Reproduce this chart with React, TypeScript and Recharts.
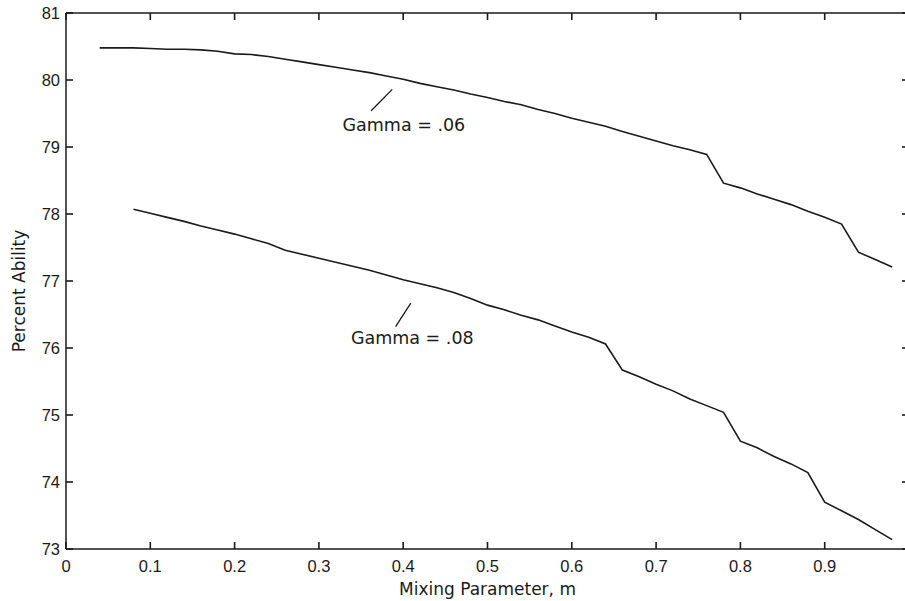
import { LineChart, Line, XAxis, YAxis, ReferenceLine, ReferenceDot } from 'recharts';

// mixing parameter m and percent ability
const mGamma06 = [0.04, 0.06, 0.08, 0.1, 0.12, 0.14, 0.16, 0.18, 0.2, 0.22, 0.24, 0.26, 0.28, 0.3, 0.32, 0.34, 0.36, 0.38, 0.4, 0.42, 0.44, 0.46, 0.48, 0.5, 0.52, 0.54, 0.56, 0.58, 0.6, 0.62, 0.64, 0.66, 0.68, 0.7, 0.72, 0.74, 0.76, 0.78, 0.8, 0.82, 0.84, 0.86, 0.88, 0.9, 0.92, 0.94, 0.96, 0.98];
const gamma06 = [80.48, 80.48, 80.48, 80.47, 80.46, 80.46, 80.45, 80.43, 80.39, 80.38, 80.35, 80.31, 80.27, 80.23, 80.19, 80.15, 80.11, 80.06, 80.01, 79.95, 79.9, 79.85, 79.79, 79.74, 79.68, 79.63, 79.56, 79.5, 79.43, 79.37, 79.31, 79.23, 79.16, 79.09, 79.02, 78.96, 78.89, 78.46, 78.39, 78.3, 78.22, 78.14, 78.04, 77.95, 77.85, 77.43, 77.32, 77.21];

const mGamma08 = [0.08, 0.1, 0.12, 0.14, 0.16, 0.18, 0.2, 0.22, 0.24, 0.26, 0.28, 0.3, 0.32, 0.34, 0.36, 0.38, 0.4, 0.42, 0.44, 0.46, 0.48, 0.5, 0.52, 0.54, 0.56, 0.58, 0.6, 0.62, 0.64, 0.66, 0.68, 0.7, 0.72, 0.74, 0.76, 0.78, 0.8, 0.82, 0.84, 0.86, 0.88, 0.9, 0.92, 0.94, 0.96, 0.98];
const gamma08 = [78.07, 78.01, 77.95, 77.89, 77.82, 77.76, 77.7, 77.63, 77.56, 77.46, 77.4, 77.34, 77.28, 77.22, 77.16, 77.09, 77.02, 76.96, 76.9, 76.83, 76.74, 76.64, 76.57, 76.49, 76.42, 76.33, 76.24, 76.16, 76.06, 75.67, 75.57, 75.46, 75.36, 75.24, 75.14, 75.04, 74.61, 74.51, 74.38, 74.27, 74.14, 73.7, 73.57, 73.44, 73.29, 73.14];

const xTicks = [0, 0.1, 0.2, 0.3, 0.4, 0.5, 0.6, 0.7, 0.8, 0.9, 1];
const yTicks = [73, 74, 75, 76, 77, 78, 79, 80, 81];

const INK = '#1a1a1a';
const TEXT_FONT = 'DejaVu Sans';
const TICK_FONT = 'Liberation Sans';
const TICK_LEN = 7; // inward tick marks, MATLAB style
const X_GAP = 11;
const Y_GAP = 6;

const data06 = mGamma06.map((m, i) => ({ m, v: gamma06[i] }));
const data08 = mGamma08.map((m, i) => ({ m, v: gamma08[i] }));

const BottomTick = ({ x, y, payload }: any) => (
    <g>
        <line x1={x} x2={x} y1={y - X_GAP} y2={y - X_GAP - TICK_LEN} stroke={INK} strokeWidth={1.6} />
        {payload.value < 1 && (
            <text x={x} y={y} dy="0.71em" textAnchor="middle" fontFamily={TICK_FONT} fontSize={16.5} fill={INK}>
                {String(payload.value)}
            </text>
        )}
    </g>
);

const LeftTick = ({ x, y, payload }: any) => (
    <g>
        <line x1={x + Y_GAP} x2={x + Y_GAP + TICK_LEN} y1={y} y2={y} stroke={INK} strokeWidth={1.6} />
        <text x={x} y={y} dy="0.35em" textAnchor="end" fontFamily={TICK_FONT} fontSize={16.5} fill={INK}>
            {String(payload.value)}
        </text>
    </g>
);

const TopTick = ({ x, y }: any) => (
    <line x1={x} x2={x} y1={y} y2={y + TICK_LEN} stroke={INK} strokeWidth={1.6} />
);

const RightTick = ({ x, y }: any) => (
    <line x1={x} x2={x - TICK_LEN} y1={y} y2={y} stroke={INK} strokeWidth={1.6} />
);

const XTitle = ({ viewBox }: any) => (
    <text x={viewBox.x + viewBox.width / 2} y={595} textAnchor="middle" fontFamily={TEXT_FONT} fontSize={17} fill={INK}>
        Mixing Parameter, m
    </text>
);

const YTitle = ({ viewBox }: any) => {
    const cy = viewBox.y + viewBox.height / 2 + 10;
    return (
        <text x={25} y={cy} transform={`rotate(-90 25 ${cy})`} textAnchor="middle" fontFamily={TEXT_FONT} fontSize={17} fill={INK}>
            Percent Ability
        </text>
    );
};

const note = (label: string) => (p: any) => (
    <text x={p.cx} y={p.cy} dominantBaseline="central" fontFamily={TEXT_FONT} fontSize={17.5} fill={INK}>
        {label}
    </text>
);

const App = () => {
    return (
        <div style={{ width: 905, height: 601, overflow: 'hidden', background: '#fff' }}>
            <style>{`body { margin: 0; }`}</style>
            <LineChart width={920} height={601} margin={{ top: 12, right: 10, bottom: 0, left: 0 }}>
                <XAxis
                    dataKey="m"
                    type="number"
                    domain={[0, 1]}
                    ticks={xTicks}
                    interval={0}
                    allowDataOverflow
                    height={52}
                    tickSize={0}
                    tickLine={false}
                    tickMargin={X_GAP}
                    stroke={INK}
                    strokeWidth={1.5}
                    tick={BottomTick}
                    label={XTitle}
                />
                <XAxis
                    xAxisId="top"
                    orientation="top"
                    dataKey="m"
                    type="number"
                    domain={[0, 1]}
                    ticks={xTicks}
                    interval={0}
                    allowDataOverflow
                    height={1}
                    tickSize={0}
                    tickMargin={0}
                    tickLine={false}
                    stroke={INK}
                    strokeWidth={1.5}
                    tick={TopTick}
                />
                <YAxis
                    type="number"
                    domain={[73, 81]}
                    ticks={yTicks}
                    interval={0}
                    allowDataOverflow
                    width={66}
                    tickSize={0}
                    tickLine={false}
                    tickMargin={Y_GAP}
                    stroke={INK}
                    strokeWidth={1.5}
                    tick={LeftTick}
                    label={YTitle}
                />
                <YAxis
                    yAxisId="right"
                    orientation="right"
                    type="number"
                    domain={[73, 81]}
                    ticks={yTicks}
                    interval={0}
                    allowDataOverflow
                    width={1}
                    tickSize={0}
                    tickMargin={0}
                    tickLine={false}
                    stroke={INK}
                    strokeWidth={1.5}
                    tick={RightTick}
                />
                <Line data={data06} dataKey="v" type="linear" stroke={INK} strokeWidth={1.6} dot={false} isAnimationActive={false} />
                <Line data={data08} dataKey="v" type="linear" stroke={INK} strokeWidth={1.6} dot={false} isAnimationActive={false} />
                <ReferenceLine segment={[{ x: 0.362, y: 79.54 }, { x: 0.387, y: 79.86 }]} stroke={INK} strokeWidth={1.3} />
                <ReferenceLine segment={[{ x: 0.391, y: 76.32 }, { x: 0.409, y: 76.67 }]} stroke={INK} strokeWidth={1.3} />
                <ReferenceDot x={0.328} y={79.33} r={0} shape={note('Gamma = .06')} />
                <ReferenceDot x={0.338} y={76.15} r={0} shape={note('Gamma = .08')} />
            </LineChart>
        </div>
    );
};

export default App;
